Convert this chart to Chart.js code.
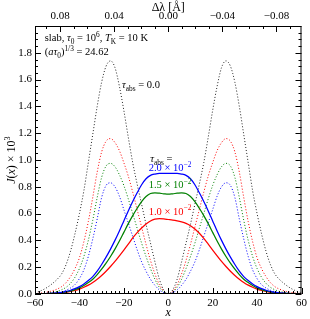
<!DOCTYPE html>
<html>
<head>
<meta charset="utf-8">
<script src="https://cdn.jsdelivr.net/npm/chart.js@4.4.1/dist/chart.umd.min.js"></script>
<style>
  html, body { margin: 0; padding: 0; background: #fff; }
  canvas { display: block; }
</style>
</head>
<body>
<canvas id="grafico" width="310" height="319"></canvas>
<script>
// eixo x (frequencia adimensional)
const xs = [-60,-58,-56,-54,-52,-50,-48,-46,-44,-42,-40,-38,-36,-34,-32,-30,-28,-26,-24,-22,-20,-18,-16,-14,-12,-10,-8,-6,-4,-2,
  0,2,4,6,8,10,12,14,16,18,20,22,24,26,28,30,32,34,36,38,40,42,44,46,48,50,52,54,56,58,60];

// curvas pontilhadas (sem / com absorcao, linha de referencia)
const pontPreto = [0.01,0.02,0.035,0.055,0.08,0.11,0.15,0.22,0.32,0.45,0.60,0.77,0.98,1.19,1.40,1.58,1.70,1.74,1.69,1.55,1.37,1.17,0.98,0.82,0.67,0.52,0.38,0.24,0.11,0.03,
  0.00,
  0.03,0.11,0.24,0.38,0.52,0.67,0.82,0.98,1.17,1.37,1.55,1.69,1.74,1.70,1.58,1.40,1.19,0.98,0.77,0.60,0.45,0.32,0.22,0.15,0.11,0.08,0.055,0.035,0.02,0.01];
const pontVermelho = [0.004,0.006,0.01,0.016,0.025,0.037,0.055,0.085,0.13,0.19,0.27,0.39,0.54,0.72,0.91,1.06,1.14,1.16,1.13,1.07,0.98,0.88,0.76,0.63,0.50,0.37,0.25,0.15,0.07,0.02,
  0.00,
  0.02,0.07,0.15,0.25,0.37,0.50,0.63,0.76,0.88,0.98,1.07,1.13,1.16,1.14,1.06,0.91,0.72,0.54,0.39,0.27,0.19,0.13,0.085,0.055,0.037,0.025,0.016,0.01,0.006,0.004];
const pontVerde = [0.002,0.003,0.005,0.008,0.013,0.02,0.032,0.05,0.08,0.125,0.19,0.28,0.40,0.55,0.72,0.87,0.955,0.975,0.95,0.89,0.81,0.71,0.60,0.49,0.38,0.28,0.19,0.11,0.05,0.015,
  0.00,
  0.015,0.05,0.11,0.19,0.28,0.38,0.49,0.60,0.71,0.81,0.89,0.95,0.975,0.955,0.87,0.72,0.55,0.40,0.28,0.19,0.125,0.08,0.05,0.032,0.02,0.013,0.008,0.005,0.003,0.002];
const pontAzul = [0.001,0.002,0.003,0.004,0.007,0.011,0.017,0.028,0.045,0.07,0.115,0.18,0.28,0.41,0.56,0.72,0.81,0.83,0.80,0.73,0.63,0.53,0.43,0.33,0.24,0.17,0.11,0.065,0.03,0.01,
  0.00,
  0.01,0.03,0.065,0.11,0.17,0.24,0.33,0.43,0.53,0.63,0.73,0.80,0.83,0.81,0.72,0.56,0.41,0.28,0.18,0.115,0.07,0.045,0.028,0.017,0.011,0.007,0.004,0.003,0.002,0.001];

// curvas solidas (tau_abs = 2.0e-2, 1.5e-2, 1.0e-2)
const solAzul = [0.001,0.002,0.003,0.004,0.006,0.009,0.013,0.019,0.028,0.04,0.055,0.075,0.10,0.13,0.17,0.22,0.275,0.335,0.40,0.47,0.545,0.62,0.69,0.755,0.815,0.86,0.885,0.895,0.90,0.90,
  0.90,
  0.90,0.90,0.895,0.885,0.86,0.815,0.755,0.69,0.62,0.545,0.47,0.40,0.335,0.275,0.22,0.17,0.13,0.10,0.075,0.055,0.04,0.028,0.019,0.013,0.009,0.006,0.004,0.003,0.002,0.001];
const solVerde = [0.001,0.001,0.002,0.003,0.005,0.007,0.011,0.016,0.023,0.033,0.046,0.063,0.085,0.11,0.145,0.185,0.23,0.28,0.335,0.395,0.46,0.525,0.585,0.64,0.69,0.728,0.75,0.755,0.752,0.748,
  0.745,
  0.748,0.752,0.755,0.75,0.728,0.69,0.64,0.585,0.525,0.46,0.395,0.335,0.28,0.23,0.185,0.145,0.11,0.085,0.063,0.046,0.033,0.023,0.016,0.011,0.007,0.005,0.003,0.002,0.001,0.001];
const solVermelho = [0.001,0.001,0.002,0.003,0.004,0.006,0.009,0.013,0.019,0.027,0.037,0.05,0.066,0.086,0.11,0.138,0.17,0.205,0.243,0.285,0.328,0.372,0.418,0.458,0.492,0.522,0.545,0.558,0.562,0.56,
  0.556,
  0.552,0.546,0.538,0.527,0.51,0.485,0.453,0.415,0.372,0.328,0.285,0.243,0.205,0.17,0.138,0.11,0.086,0.066,0.05,0.037,0.027,0.019,0.013,0.009,0.006,0.004,0.003,0.002,0.001,0.001];

// ticks dos eixos
const ticksX = [-60, -40, -20, 0, 20, 40, 60];
const ticksLambda = [0.08, 0.04, 0.00, -0.04, -0.08];
const ticksY = [0.0, 0.2, 0.4, 0.6, 0.8, 1.0, 1.2, 1.4, 1.6, 1.8];

const FONTE = '"Liberation Serif", "Times New Roman", serif';

function pares(ys) {
  return xs.map((x, i) => ({ x: x, y: ys[i] }));
}

function serie(ys, cor, pontilhada) {
  return {
    data: pares(ys),
    borderColor: cor,
    borderWidth: pontilhada ? 1 : 1.25,
    borderDash: pontilhada ? [1, 2] : [],
    pointRadius: 0,
    fill: false,
    cubicInterpolationMode: "monotone",
  };
}

// escreve texto com italico / subscrito / sobrescrito
function textoRico(ctx, partes, x, y, tam, cor, alinha) {
  const fonte = (p) => {
    const pequeno = p[1] === "sub" || p[1] === "sup";
    const it = p[1] === "i" ? "italic " : "";
    return it + (pequeno ? tam * 0.7 : tam) + "px " + FONTE;
  };
  let larg = 0;
  partes.forEach((p) => {
    ctx.font = fonte(p);
    larg += ctx.measureText(p[0]).width;
  });
  let cx = alinha === "center" ? x - larg / 2 : x;
  ctx.fillStyle = cor;
  ctx.textAlign = "left";
  ctx.textBaseline = "alphabetic";
  partes.forEach((p) => {
    ctx.font = fonte(p);
    let dy = 0;
    if (p[1] === "sub") dy = tam * 0.25;
    if (p[1] === "sup") dy = -tam * 0.4;
    ctx.fillText(p[0], cx, y + dy);
    cx += ctx.measureText(p[0]).width;
  });
}

// anotacoes em coordenadas dos dados
const anotacoes = [
  { x: -55.6, y: 1.888, cor: "#000", partes: [["slab, ", "n"], ["τ", "i"], ["0", "sub"], [" = 10", "n"], ["6", "sup"], [", ", "n"], ["T", "i"], ["K", "sub"], [" = 10 K", "n"]] },
  { x: -55.6, y: 1.783, cor: "#000", partes: [["(", "n"], ["aτ", "i"], ["0", "sub"], [")", "n"], ["1/3", "sup"], [" = 24.62", "n"]] },
  { x: -20.8, y: 1.536, cor: "#000", partes: [["τ", "i"], ["abs", "sub"], [" = 0.0", "n"]] },
  { x: -8.1, y: 0.985, cor: "#000", partes: [["τ", "i"], ["abs", "sub"], [" =", "n"]] },
  { x: -8.8, y: 0.918, cor: "#0000ff", partes: [["2.0 × 10", "n"], ["−2", "sup"]] },
  { x: -8.8, y: 0.792, cor: "#008000", partes: [["1.5 × 10", "n"], ["−2", "sup"]] },
  { x: -8.8, y: 0.592, cor: "#ff0000", partes: [["1.0 × 10", "n"], ["−2", "sup"]] },
];

const moldura = {
  id: "moldura",
  afterDraw(chart) {
    const ctx = chart.ctx;
    const a = chart.chartArea;
    const sx = chart.scales.x, sy = chart.scales.y, sl = chart.scales.x2;
    ctx.save();
    ctx.strokeStyle = "#000";
    ctx.lineWidth = 1;
    ctx.strokeRect(a.left + 0.5, a.top + 0.5, a.right - a.left - 1, a.bottom - a.top - 1);

    ctx.beginPath();
    // ticks de baixo (x)
    for (let i = -30; i <= 30; i++) {
      const px = Math.round(sx.getPixelForValue(i * 2)) + 0.5;
      const L = i % 10 === 0 ? 6 : 3;
      ctx.moveTo(px, a.bottom); ctx.lineTo(px, a.bottom - L);
    }
    // ticks de cima (delta lambda)
    for (let i = -9; i <= 9; i++) {
      const px = Math.round(sl.getPixelForValue(i * 0.01)) + 0.5;
      const L = i % 4 === 0 ? 6 : 3;
      ctx.moveTo(px, a.top); ctx.lineTo(px, a.top + L);
    }
    // ticks dos lados (y)
    for (let i = 0; i <= 40; i++) {
      const py = Math.round(sy.getPixelForValue(i * 0.05)) + 0.5;
      const L = i % 4 === 0 ? 6 : 3;
      ctx.moveTo(a.left, py); ctx.lineTo(a.left + L, py);
      ctx.moveTo(a.right, py); ctx.lineTo(a.right - L, py);
    }
    ctx.stroke();

    anotacoes.forEach((n) => {
      textoRico(ctx, n.partes, sx.getPixelForValue(n.x), sy.getPixelForValue(n.y), 10.5, n.cor, "left");
    });

    // titulos dos eixos
    const cx = (a.left + a.right) / 2;
    textoRico(ctx, [["x", "i"]], cx, 316, 12, "#000", "center");
    textoRico(ctx, [["Δλ [Å]", "n"]], cx, 11, 12, "#000", "center");
    ctx.translate(15, (a.top + a.bottom) / 2);
    ctx.rotate(-Math.PI / 2);
    textoRico(ctx, [["J", "i"], ["(", "n"], ["x", "i"], [") × 10", "n"], ["3", "sup"]], 0, 0, 12, "#000", "center");
    ctx.restore();
  },
};

function grafico() {
  const ctx = document.getElementById("grafico");
  const fonteTick = { family: FONTE, size: 11 };
  new Chart(ctx, {
    type: "line",
    data: {
      datasets: [
        serie(solAzul, "#0000ff", false),
        serie(solVerde, "#008000", false),
        serie(solVermelho, "#ff0000", false),
        serie(pontPreto, "#222222", true),
        serie(pontVermelho, "#ff0000", true),
        serie(pontVerde, "#008000", true),
        serie(pontAzul, "#0000ff", true),
      ],
    },
    options: {
      responsive: false,
      animation: false,
      devicePixelRatio: 1,
      layout: { padding: { left: 0, right: 5, top: 0, bottom: 0 } },
      plugins: { legend: { display: false }, tooltip: { enabled: false } },
      scales: {
        x: {
          type: "linear",
          position: "bottom",
          min: -60,
          max: 60,
          afterFit: (s) => { s.height = 25; },
          afterBuildTicks: (s) => { s.ticks = ticksX.map((v) => ({ value: v })); },
          grid: { display: false, drawTicks: false },
          border: { display: false },
          ticks: {
            font: fonteTick, color: "#000", padding: 3, maxRotation: 0, autoSkip: false,
            callback: (v) => String(v).replace("-", "−"),
          },
        },
        x2: {
          type: "linear",
          position: "top",
          min: -0.0985,
          max: 0.0985,
          reverse: true,
          afterFit: (s) => { s.height = 26; },
          afterBuildTicks: (s) => { s.ticks = ticksLambda.map((v) => ({ value: v })); },
          grid: { display: false, drawTicks: false },
          border: { display: false },
          ticks: {
            font: fonteTick, color: "#000", padding: 3, maxRotation: 0, autoSkip: false,
            callback: (v) => (Math.abs(v) < 1e-9 ? "0.00" : v.toFixed(2).replace("-", "−")),
          },
        },
        y: {
          type: "linear",
          min: 0,
          max: 2.0,
          afterFit: (s) => { s.width = 35; },
          afterBuildTicks: (s) => { s.ticks = ticksY.map((v) => ({ value: v })); },
          grid: { display: false, drawTicks: false },
          border: { display: false },
          ticks: {
            font: fonteTick, color: "#000", padding: 3, autoSkip: false,
            callback: (v) => v.toFixed(1),
          },
        },
      },
    },
    plugins: [moldura],
  });
}

grafico();
</script>
</body>
</html>
